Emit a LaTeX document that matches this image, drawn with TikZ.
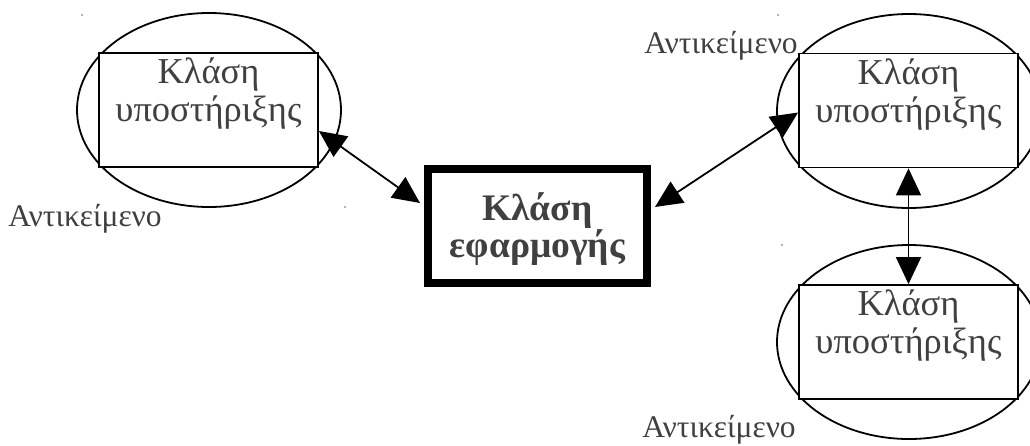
\documentclass[tikz,border=0pt]{standalone}
\usepackage{fontspec}
\setmainfont{Liberation Serif}
\usetikzlibrary{shapes.geometric,arrows.meta}
\begin{document}
\begin{tikzpicture}[x=1pt,y=-1pt,
  obj/.style={ellipse,draw,line width=1.8pt,minimum width=264pt,minimum height=194pt,inner sep=0pt},
  cls/.style={rectangle,draw,line width=1.8pt,minimum width=219pt,minimum height=114pt,fill=white,inner sep=0pt},
  clstext/.style={text=black!75,font=\fontsize{36.5}{38}\selectfont,align=center,inner sep=0pt},
  lbl/.style={text=black!75,font=\fontsize{31.5}{34}\selectfont,inner sep=0pt,anchor=base},
  app/.style={rectangle,draw,line width=8pt,minimum width=219pt,minimum height=114pt,inner sep=0pt},
  apptext/.style={text=black!75,font=\fontsize{37.5}{37}\selectfont\bfseries,align=center,inner sep=0pt},
  link/.style={line width=1.8pt,{Triangle[length=27pt,width=25pt]}-{Triangle[length=27pt,width=25pt]}},
  speck/.style={fill=black!60,circle,inner sep=0pt,minimum size=1.6pt}]
\useasboundingbox (0,0) rectangle (1030,445);

% support-class objects
\node[obj] (lobj) at (209,110) {};
\node[cls] (lrect) at (208.5,110) {};
\node[clstext] (ltext) at (208.5,94) {Κλάση\\υποστήριξης};

\node[obj] (tobj) at (909,111) {};
\node[cls] (trect) at (908.5,110.5) {};
\node[clstext] (ttext) at (908.5,94.5) {Κλάση\\υποστήριξης};

\node[obj] (bobj) at (909,342) {};
\node[cls] (brect) at (908.5,342) {};
\node[clstext] (btext) at (908.5,326) {Κλάση\\υποστήριξης};

% application class
\node[app] (main) at (537.5,226) {};
\node[apptext] (mtext) at (537.5,229.5) {Κλάση\\εφαρμογής};

% object labels
\node[lbl] (llbl) at (85,226) {Αντικείμενο};
\node[lbl] (tlbl) at (721,53) {Αντικείμενο};
\node[lbl] (blbl) at (719,437) {Αντικείμενο};

% associations
\draw[link] ([yshift=-21pt]lrect.east) -- ([xshift=-4pt,yshift=23pt]main.west);
\draw[link] ([yshift=-2pt]trect.west) -- ([xshift=4pt,yshift=19pt]main.east);
\draw[link] (trect.south) -- (brect.north);

% anchor specks
\node[speck] (s1) at (82,15) {};
\node[speck] (s2) at (345,207) {};
\node[speck] (s3) at (778,15) {};
\node[speck] (s4) at (782,245) {};
\end{tikzpicture}
\end{document}
